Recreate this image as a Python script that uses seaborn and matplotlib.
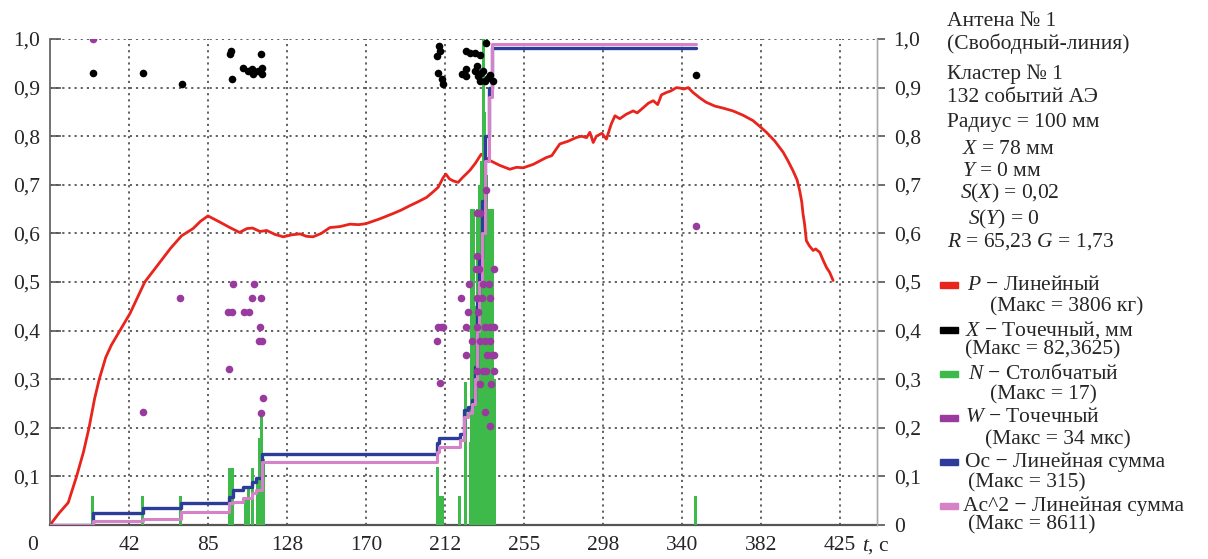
import numpy as np
import pandas as pd
import matplotlib
matplotlib.use("Agg")
import matplotlib.pyplot as plt
import matplotlib.transforms as mtransforms
import seaborn as sns

# ---------------- data ----------------
# P - linear (normalised load)
t_P = [0, 5, 9.8, 14.3, 18, 21, 24, 26.5, 30, 33, 37.6, 43, 51, 59, 65, 70.8, 77, 81, 85, 88,
       91.5, 96.8, 102, 106, 109, 113, 116.6, 121, 125.5, 130, 134.5, 138, 141.5, 146, 150.6,
       156, 161.4, 166, 170, 177.5, 184.7, 189, 193.6, 198, 202.6, 206, 208.9, 211.6, 213, 215,
       217, 219.6, 222, 226, 229, 232, 236.7, 242, 247.4, 251, 254.6, 260, 267, 270, 274.3, 279,
       283, 286, 288.7, 290.5, 292.3, 294, 297, 299.4, 302, 304, 306.6, 310, 313.8, 316, 319,
       322, 324.6, 327, 329, 331.7, 334, 337.1, 339, 341, 343.4, 346, 349.6, 353, 357.7, 362,
       367.5, 373, 378.3, 382, 385.5, 390, 394.5, 397, 399.8, 402, 403.4, 404.5, 405.2, 406,
       407, 408.5, 410.6, 412, 414.2, 416, 417.8, 419.5, 421.4]
v_P = [0, 0.025, 0.046, 0.10, 0.15, 0.20, 0.26, 0.30, 0.345, 0.37, 0.40, 0.435, 0.50, 0.54,
       0.57, 0.595, 0.61, 0.625, 0.636, 0.63, 0.623, 0.612, 0.602, 0.61, 0.611, 0.604, 0.606,
       0.598, 0.593, 0.597, 0.599, 0.594, 0.593, 0.60, 0.612, 0.614, 0.619, 0.618, 0.62, 0.63,
       0.641, 0.648, 0.657, 0.665, 0.674, 0.685, 0.695, 0.715, 0.722, 0.712, 0.708, 0.705,
       0.715, 0.73, 0.745, 0.763, 0.75, 0.74, 0.732, 0.736, 0.735, 0.742, 0.756, 0.76, 0.784,
       0.79, 0.797, 0.80, 0.797, 0.808, 0.787, 0.80, 0.806, 0.794, 0.825, 0.842, 0.836, 0.845,
       0.852, 0.848, 0.858, 0.868, 0.873, 0.865, 0.885, 0.89, 0.893, 0.90, 0.899, 0.897, 0.90,
       0.89, 0.879, 0.87, 0.862, 0.858, 0.852, 0.843, 0.832, 0.82, 0.808, 0.79, 0.767, 0.75,
       0.729, 0.71, 0.688, 0.665, 0.64, 0.62, 0.585, 0.575, 0.565, 0.568, 0.561, 0.545, 0.53,
       0.52, 0.503]

# X - point (black)
t_X = [23, 50, 70.8, 96.8, 97.5, 97.7, 104, 106.7, 108.5, 109.4, 112, 113.3, 113.9, 113.9,
       208.3, 208.9, 209.5, 209.8, 210.7, 211.6, 221.5, 224, 224, 224, 225.9, 228.6, 228.6,
       229.5, 230.4, 231.3, 231.3, 232, 233, 234, 234.5, 235.8, 236.7, 238.5, 347.5]
v_X = [0.93, 0.93, 0.907, 0.970, 0.975, 0.917, 0.94, 0.934, 0.938, 0.929, 0.934, 0.970, 0.940,
       0.928, 0.965, 0.931, 0.986, 0.975, 0.917, 0.907, 0.928, 0.975, 0.938, 0.924, 0.972,
       0.972, 0.934, 0.945, 0.924, 0.968, 0.914, 0.93, 0.934, 0.914, 0.992, 0.92, 0.925,
       0.914, 0.926]

# N - bars (green)
t_N = [23, 50, 70.3, 96.5, 98, 105, 106.7, 109, 111.5, 112.6, 113.9, 114.8, 208.3, 209.5,
       211, 220.5, 223.5, 226, 227, 228, 229, 230, 231, 232, 233, 234, 235, 236, 237, 238,
       239, 347.5]
v_N = [0.06, 0.06, 0.06, 0.118, 0.118, 0.058, 0.078, 0.118, 0.086, 0.178, 0.23, 0.135, 0.12,
       0.06, 0.06, 0.06, 0.294, 0.17, 0.65, 0.65, 0.45, 0.65, 0.70, 0.75, 1.0, 0.85, 0.72,
       0.65, 0.65, 0.65, 0.30, 0.06]

# W - point (purple)
t_W = [23, 50, 70, 96, 96.4, 97.7, 98.3, 104.4, 107.2, 108.8, 109.7, 112.6, 112.9, 113.3,
       113.5, 114, 114.4, 208.3, 208.9, 209.8, 210.5, 211.6, 220.9, 223.6, 224.1, 225, 225.6,
       227.3, 229.2, 229.5, 229.5, 229.7, 229.9, 230, 230.4, 231, 231.5, 231.5, 231.3, 232.5,
       233, 233.2, 234, 234.2, 234.2, 234.5, 234.8, 235, 236, 236.7, 236.9, 236.9, 237, 237.3,
       238, 238.7, 238.7, 238.8, 238.8, 347.5]
v_W = [1.0, 0.232, 0.467, 0.438, 0.32, 0.438, 0.495, 0.438, 0.438, 0.468, 0.495, 0.378, 0.407,
       0.468, 0.231, 0.378, 0.262, 0.378, 0.407, 0.292, 0.407, 0.407, 0.468, 0.35, 0.407,
       0.438, 0.496, 0.378, 0.527, 0.554, 0.468, 0.407, 0.643, 0.316, 0.438, 0.527, 0.378,
       0.29, 0.643, 0.468, 0.316, 0.496, 0.233, 0.407, 0.378, 0.69, 0.316, 0.35, 0.496, 0.203,
       0.407, 0.378, 0.468, 0.29, 0.35, 0.407, 0.35, 0.527, 0.316, 0.615]

# Oc - cumulative sum (blue)
t_Oc = [0, 23, 50, 70.3, 96.5, 98.6, 104, 108.5, 111, 114, 208.5, 209.5, 220.5, 223, 224.7,
        227, 228.6, 230, 231, 232.5, 234, 236, 238, 240, 347.5]
v_Oc = [0, 0.025, 0.034, 0.045, 0.058, 0.073, 0.079, 0.089, 0.096, 0.147, 0.168, 0.178, 0.188,
        0.236, 0.243, 0.257, 0.325, 0.46, 0.55, 0.667, 0.80, 0.90, 0.981, 0.981, 0.981]

# Ac^2 - cumulative sum (pink)
t_Ac = [0, 23, 50, 70.3, 96.5, 98.6, 104, 108.5, 111, 114, 208.5, 209.5, 220.5, 223, 224.7,
        227, 228.6, 230, 231, 232.5, 234, 236, 238, 240, 347.5]
v_Ac = [0, 0.008, 0.012, 0.027, 0.045, 0.048, 0.055, 0.065, 0.073, 0.130, 0.15, 0.161, 0.175,
        0.222, 0.23, 0.25, 0.30, 0.40, 0.50, 0.60, 0.75, 0.88, 0.99, 0.99, 0.99]

x_ticks = [0, 42.5, 85, 127.5, 170, 212.5, 255, 297.5, 340, 382.5, 425]
x_labels = ["0", "42", "85", "128", "170", "212", "255", "298", "340", "382", "425"]
y_ticks = [0, 0.1, 0.2, 0.3, 0.4, 0.5, 0.6, 0.7, 0.8, 0.9, 1.0]
y_labels = ["0", "0,1", "0,2", "0,3", "0,4", "0,5", "0,6", "0,7", "0,8", "0,9", "1,0"]

header = ["Антена № 1", "(Свободный-линия)", "Кластер № 1", "132 событий АЭ",
          "Радиус = 100 мм", "$X$ = 78 мм", "$Y$ = 0 мм", "$S$($X$) = 0,02",
          "$S$($Y$) = 0", "$R$ = 65,23 $G$ = 1,73"]
legend_names = ["$P$ − Линейный", "$X$ − Точечный, мм", "$N$ − Столбчатый",
                "$W$ − Точечный", "Oc − Линейная сумма", "Ac^2 − Линейная сумма"]
legend_max = ["(Макс = 3806 кг)", "(Макс = 82,3625)", "(Макс = 17)",
              "(Макс = 34 мкс)", "(Макс = 315)", "(Макс = 8611)"]

C_RED = "#e8241c"
C_BLACK = "#000000"
C_GREEN = "#3dba4a"
C_PURPLE = "#9a3a9e"
C_BLUE = "#2d3c98"
C_PINK = "#d682c8"
legend_colors = [C_RED, C_BLACK, C_GREEN, C_PURPLE, C_BLUE, C_PINK]

# ---------------- style ----------------
sns.set_theme(style="white")
plt.rcParams["font.family"] = ["Liberation Serif", "DejaVu Serif"]
plt.rcParams["mathtext.fontset"] = "custom"
plt.rcParams["mathtext.it"] = "Liberation Serif:italic"
plt.rcParams["mathtext.rm"] = "Liberation Serif"
plt.rcParams["axes.unicode_minus"] = False

W, H = 1208, 559
fig = plt.figure(figsize=(W / 100, H / 100), dpi=100)
x0, x1 = 50, 877
y0, y1 = 525, 39
ax = fig.add_axes([x0 / W, (H - y0) / H, (x1 - x0) / W, (y0 - y1) / H])
ax.set_xlim(0, 445)
ax.set_ylim(0, 1.0)

FS = 15.5

# grid
for xt in x_ticks[1:]:
    ax.axvline(xt, color="#555555", lw=1.3, ls=(0, (1.2, 2.2)), zorder=0)
for yt in y_ticks[1:]:
    ax.axhline(yt, color="#555555", lw=1.3, ls=(0, (1.2, 2.2)), zorder=0)

# red line
dfP = pd.DataFrame({"t": t_P, "v": v_P})
sns.lineplot(data=dfP, x="t", y="v", ax=ax, color=C_RED, lw=2.0, estimator=None,
             sort=False, zorder=2)

# green bars
ax.bar(t_N, v_N, width=1.6, color=C_GREEN, linewidth=0, zorder=3)

# cumulative lines
dfOc = pd.DataFrame({"t": t_Oc, "v": v_Oc})
dfAc = pd.DataFrame({"t": t_Ac, "v": v_Ac})
sns.lineplot(data=dfOc, x="t", y="v", ax=ax, color=C_BLUE, lw=2.4, estimator=None,
             sort=False, drawstyle="steps-post", zorder=4)
sns.lineplot(data=dfAc, x="t", y="v", ax=ax, color=C_PINK, lw=2.2, estimator=None,
             sort=False, drawstyle="steps-post", zorder=4.5)

# scatter
dfX = pd.DataFrame({"t": t_X, "v": v_X})
dfW = pd.DataFrame({"t": t_W, "v": v_W})
sns.scatterplot(data=dfX, x="t", y="v", ax=ax, color=C_BLACK, s=30, linewidth=0, zorder=5)
sns.scatterplot(data=dfW, x="t", y="v", ax=ax, color=C_PURPLE, s=30, linewidth=0, zorder=5)

ax.set_xlabel("")
ax.set_ylabel("")
ax.set_xticks(x_ticks)
ax.set_xticklabels(x_labels, fontsize=FS)
ax.set_yticks(y_ticks[1:])
ax.set_yticklabels(y_labels[1:], fontsize=FS)
ax.tick_params(axis="x", direction="out", length=6, width=1.2, color="#555555", pad=2)
ax.tick_params(axis="y", direction="in", length=8, width=1.2, color="#555555", pad=7)
ax.spines["top"].set_visible(False)
ax.spines["left"].set_color("#666666")
ax.spines["left"].set_linewidth(1.3)
ax.spines["bottom"].set_color("#555555")
ax.spines["bottom"].set_linewidth(1.6)
ax.spines["right"].set_color("#aaaaaa")
ax.spines["right"].set_linewidth(1.0)

# shift "0" x label left
lbl0 = ax.get_xticklabels()[0]
lbl0.set_transform(lbl0.get_transform() +
                   mtransforms.ScaledTranslation(-17 / 100, 0, fig.dpi_scale_trans))

ax2 = ax.twinx()
ax2.set_ylim(0, 1.0)
ax2.set_yticks(y_ticks)
ax2.set_yticklabels(y_labels, fontsize=FS)
ax2.tick_params(axis="y", direction="out", length=6, width=1.2, color="#555555", pad=6)
for s in ["top", "left", "bottom"]:
    ax2.spines[s].set_visible(False)
ax2.spines["right"].set_color("#aaaaaa")
ax2.spines["right"].set_linewidth(1.0)

# t, c label
fig.text(862 / W, 1 - 546 / H, "$t$, c", fontsize=FS, ha="left", va="center")

# header text
hx = [947, 947, 947, 947, 947, 962, 962, 960, 968, 947]
hy = [21, 44, 74, 98, 122, 150, 171, 193, 219, 242]
for s, xx, yy in zip(header, hx, hy):
    fig.text(xx / W, 1 - yy / H, s, fontsize=FS, ha="left", va="center")

# legend
ly1 = [285, 330, 374, 418, 462, 506]
ly2 = [307, 350, 395, 440, 483, 525]
lx1 = [967, 965, 968, 965, 965, 963]
lx2 = [990, 965, 990, 985, 968, 968]
for c, n, m, a, b, xa, xb in zip(legend_colors, legend_names, legend_max, ly1, ly2, lx1, lx2):
    fig.patches.append(matplotlib.patches.Rectangle((940 / W, 1 - (a + 3) / H), 18 / W, 6 / H,
                                                    transform=fig.transFigure, color=c,
                                                    figure=fig))
    fig.text(xa / W, 1 - a / H, n, fontsize=FS, ha="left", va="center")
    fig.text(xb / W, 1 - b / H, m, fontsize=FS, ha="left", va="center")

fig.savefig("out.png", dpi=100)
